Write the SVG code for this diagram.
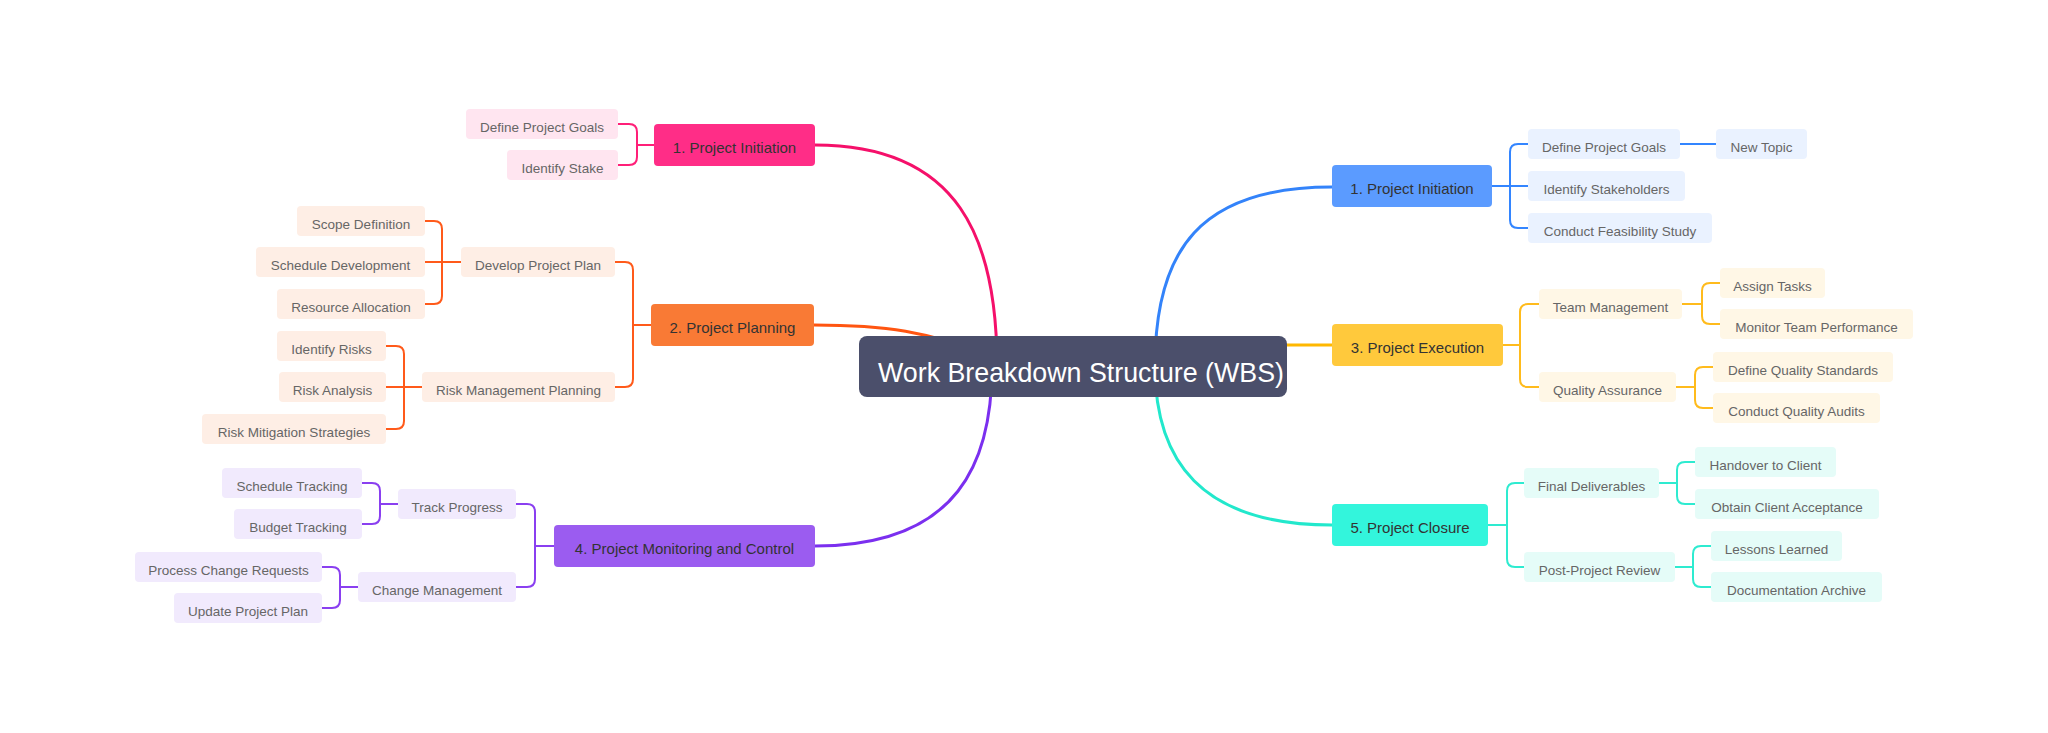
<svg xmlns="http://www.w3.org/2000/svg" width="2048" height="733" viewBox="0 0 2048 733">
<style>
text{font-family:"Liberation Sans",Arial,sans-serif}
.t0{font-size:27.5px;fill:#ffffff}
.t1{font-size:15px;fill:#333333;text-anchor:middle}
.t2{font-size:13.5px;fill:#666666;text-anchor:middle}
.br{fill:none;stroke-width:2;stroke-linejoin:round}
.main{fill:none;stroke-width:3;stroke-linecap:round}
.pk{fill:#FFE5F0}.or{fill:#FEEEE5}.pu{fill:#F1EAFD}.bl{fill:#EAF2FF}.ye{fill:#FFF7E6}.te{fill:#E5FCF8}
</style>
<rect width="2048" height="733" fill="#ffffff"/>
<g id="connectors">
<path class="main" stroke="#F5106A" d="M815 145C960 145 997 240 997 366"/>
<path class="main" stroke="#FF5511" d="M814 325C880 325 930 330 1000 360"/>
<path class="main" stroke="#7B2FEF" d="M815 546C960 546 992 460 992 366"/>
<path class="main" stroke="#3383FA" d="M1332 187C1200 187 1155 250 1155 366"/>
<path class="main" stroke="#FFB800" d="M1270 345H1332"/>
<path class="main" stroke="#22E8CC" d="M1332 525C1200 525 1155 460 1155 366"/>
<path class="br" stroke="#FF1F78" d="M618 124H629Q637 124 637 132V157Q637 165 629 165H618M637 145H654"/>
<path class="br" stroke="#FF5A1A" d="M615 262H625Q633 262 633 270V379Q633 387 625 387H615M633 325H651"/>
<path class="br" stroke="#FF5A1A" d="M425 221H434Q442 221 442 229V296Q442 304 434 304H425M425 262H461"/>
<path class="br" stroke="#FF5A1A" d="M386 346H396Q404 346 404 354V421Q404 429 396 429H386M386 387H422"/>
<path class="br" stroke="#8A3FF0" d="M516 504H527Q535 504 535 512V579Q535 587 527 587H516M535 546H554"/>
<path class="br" stroke="#8A3FF0" d="M362 483H372Q380 483 380 491V516Q380 524 372 524H362M380 504H398"/>
<path class="br" stroke="#8A3FF0" d="M322 567H332Q340 567 340 575V600Q340 608 332 608H322M340 587H358"/>
<path class="br" stroke="#3385FF" d="M1528 144H1518Q1510 144 1510 152V220Q1510 228 1518 228H1528M1492 186H1528"/>
<path class="br" stroke="#3385FF" d="M1680 144H1716"/>
<path class="br" stroke="#FFBB1C" d="M1539 304H1528Q1520 304 1520 312V379Q1520 387 1528 387H1539M1503 345H1520"/>
<path class="br" stroke="#FFBB1C" d="M1720 283H1710Q1702 283 1702 291V316Q1702 324 1710 324H1720M1682 304H1702"/>
<path class="br" stroke="#FFBB1C" d="M1713 367H1703Q1695 367 1695 375V400Q1695 408 1703 408H1713M1676 387H1695"/>
<path class="br" stroke="#2EEBD0" d="M1524 483H1515Q1507 483 1507 491V559Q1507 567 1515 567H1524M1488 525H1507"/>
<path class="br" stroke="#2EEBD0" d="M1695 462H1685Q1677 462 1677 470V496Q1677 504 1685 504H1695M1659 483H1677"/>
<path class="br" stroke="#2EEBD0" d="M1711 546H1701Q1693 546 1693 554V579Q1693 587 1701 587H1711M1675 567H1693"/>
</g>
<g id="root"><rect x="859" y="336" width="428" height="61" rx="8" fill="#4B4F6B"/><text class="t0" x="878" y="382" textLength="406" lengthAdjust="spacingAndGlyphs">Work Breakdown Structure (WBS)</text></g>

<g id="L-initiation"><rect x="654" y="124" width="161" height="42" rx="4" fill="#FF2D87"/><text class="t1" x="734.5" y="153">1. Project Initiation</text></g>
<g id="L-goals"><rect class="pk" x="466" y="109" width="152" height="30" rx="4"/><text class="t2" x="542" y="132">Define Project Goals</text></g>
<g id="L-stake"><rect class="pk" x="507" y="150" width="111" height="30" rx="4"/><text class="t2" x="562.5" y="173">Identify Stake</text></g>

<g id="planning"><rect x="651" y="304" width="163" height="42" rx="4" fill="#F97A35"/><text class="t1" x="732.5" y="333">2. Project Planning</text></g>
<g id="plan"><rect class="or" x="461" y="247" width="154" height="30" rx="4"/><text class="t2" x="538" y="270">Develop Project Plan</text></g>
<g id="riskmgmt"><rect class="or" x="422" y="372" width="193" height="30" rx="4"/><text class="t2" x="518.5" y="395">Risk Management Planning</text></g>
<g id="scope"><rect class="or" x="297" y="206" width="128" height="30" rx="4"/><text class="t2" x="361" y="229">Scope Definition</text></g>
<g id="schedule"><rect class="or" x="256" y="247" width="169" height="30" rx="4"/><text class="t2" x="340.5" y="270">Schedule Development</text></g>
<g id="resource"><rect class="or" x="277" y="289" width="148" height="30" rx="4"/><text class="t2" x="351" y="312">Resource Allocation</text></g>
<g id="idrisks"><rect class="or" x="277" y="331" width="109" height="30" rx="4"/><text class="t2" x="331.5" y="354">Identify Risks</text></g>
<g id="riskanalysis"><rect class="or" x="279" y="372" width="107" height="30" rx="4"/><text class="t2" x="332.5" y="395">Risk Analysis</text></g>
<g id="mitigation"><rect class="or" x="202" y="414" width="184" height="30" rx="4"/><text class="t2" x="294" y="437">Risk Mitigation Strategies</text></g>

<g id="monitoring"><rect x="554" y="525" width="261" height="42" rx="4" fill="#9B5CF0"/><text class="t1" x="684.5" y="554">4. Project Monitoring and Control</text></g>
<g id="track"><rect class="pu" x="398" y="489" width="118" height="30" rx="4"/><text class="t2" x="457" y="512">Track Progress</text></g>
<g id="change"><rect class="pu" x="358" y="572" width="158" height="30" rx="4"/><text class="t2" x="437" y="595">Change Management</text></g>
<g id="schedtrack"><rect class="pu" x="222" y="468" width="140" height="30" rx="4"/><text class="t2" x="292" y="491">Schedule Tracking</text></g>
<g id="budget"><rect class="pu" x="234" y="509" width="128" height="30" rx="4"/><text class="t2" x="298" y="532">Budget Tracking</text></g>
<g id="process"><rect class="pu" x="135" y="552" width="187" height="30" rx="4"/><text class="t2" x="228.5" y="575">Process Change Requests</text></g>
<g id="update"><rect class="pu" x="174" y="593" width="148" height="30" rx="4"/><text class="t2" x="248" y="616">Update Project Plan</text></g>

<g id="R-initiation"><rect x="1332" y="165" width="160" height="42" rx="4" fill="#5B9BFF"/><text class="t1" x="1412" y="194">1. Project Initiation</text></g>
<g id="R-goals"><rect class="bl" x="1528" y="129" width="152" height="30" rx="4"/><text class="t2" x="1604" y="152">Define Project Goals</text></g>
<g id="R-stake"><rect class="bl" x="1528" y="171" width="157" height="30" rx="4"/><text class="t2" x="1606.5" y="194">Identify Stakeholders</text></g>
<g id="R-feas"><rect class="bl" x="1528" y="213" width="184" height="30" rx="4"/><text class="t2" x="1620" y="236">Conduct Feasibility Study</text></g>
<g id="newtopic"><rect class="bl" x="1716" y="129" width="91" height="30" rx="4"/><text class="t2" x="1761.5" y="152">New Topic</text></g>

<g id="execution"><rect x="1332" y="324" width="171" height="42" rx="4" fill="#FFC93C"/><text class="t1" x="1417.5" y="353">3. Project Execution</text></g>
<g id="team"><rect class="ye" x="1539" y="289" width="143" height="30" rx="4"/><text class="t2" x="1610.5" y="312">Team Management</text></g>
<g id="quality"><rect class="ye" x="1539" y="372" width="137" height="30" rx="4"/><text class="t2" x="1607.5" y="395">Quality Assurance</text></g>
<g id="assign"><rect class="ye" x="1720" y="268" width="105" height="30" rx="4"/><text class="t2" x="1772.5" y="291">Assign Tasks</text></g>
<g id="monitorteam"><rect class="ye" x="1720" y="309" width="193" height="30" rx="4"/><text class="t2" x="1816.5" y="332">Monitor Team Performance</text></g>
<g id="qstandards"><rect class="ye" x="1713" y="352" width="180" height="30" rx="4"/><text class="t2" x="1803" y="375">Define Quality Standards</text></g>
<g id="qaudits"><rect class="ye" x="1713" y="393" width="167" height="30" rx="4"/><text class="t2" x="1796.5" y="416">Conduct Quality Audits</text></g>

<g id="closure"><rect x="1332" y="504" width="156" height="42" rx="4" fill="#33F5DC"/><text class="t1" x="1410" y="533">5. Project Closure</text></g>
<g id="final"><rect class="te" x="1524" y="468" width="135" height="30" rx="4"/><text class="t2" x="1591.5" y="491">Final Deliverables</text></g>
<g id="review"><rect class="te" x="1524" y="552" width="151" height="30" rx="4"/><text class="t2" x="1599.5" y="575">Post-Project Review</text></g>
<g id="handover"><rect class="te" x="1695" y="447" width="141" height="30" rx="4"/><text class="t2" x="1765.5" y="470">Handover to Client</text></g>
<g id="acceptance"><rect class="te" x="1695" y="489" width="184" height="30" rx="4"/><text class="t2" x="1787" y="512">Obtain Client Acceptance</text></g>
<g id="lessons"><rect class="te" x="1711" y="531" width="131" height="30" rx="4"/><text class="t2" x="1776.5" y="554">Lessons Learned</text></g>
<g id="archive"><rect class="te" x="1711" y="572" width="171" height="30" rx="4"/><text class="t2" x="1796.5" y="595">Documentation Archive</text></g>
</svg>
